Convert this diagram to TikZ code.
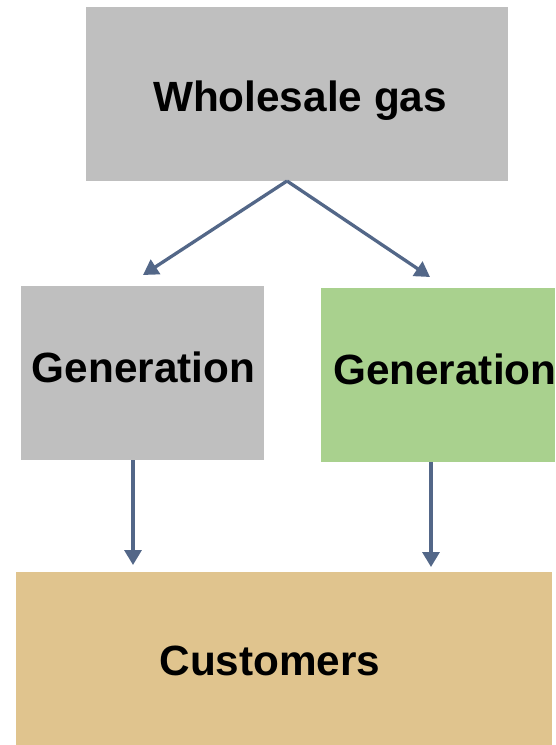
\documentclass[tikz,border=0pt]{standalone}
\usepackage{fontspec}
\setmainfont{Liberation Sans}
\usetikzlibrary{arrows.meta}
\definecolor{boxgray}{HTML}{BFBFBF}
\definecolor{boxgreen}{HTML}{A9D18E}
\definecolor{boxtan}{HTML}{E0C48E}
\definecolor{arrowblue}{HTML}{536788}
\begin{document}
\begin{tikzpicture}[x=1pt,y=-1pt,
  blk/.style={draw=none,inner sep=0pt,outer sep=0pt,anchor=north west},
  lbl/.style={font=\fontsize{42.3}{48}\selectfont\bfseries,inner sep=0pt},
  arr/.style={draw=arrowblue,line width=3.3pt,-{Triangle[width=17pt,length=15pt]}}]
\useasboundingbox (0,0) rectangle (555,745);
\node[blk,fill=boxgray,minimum width=422pt,minimum height=174pt] (w) at (86,7) {};
\node[lbl,anchor=base] (wt) at (300,111) {Wholesale gas};
\node[blk,fill=boxgray,minimum width=243pt,minimum height=174pt] (g1) at (21,286) {};
\node[lbl,anchor=base] (g1t) at (143.5,382) {Generation};
\node[blk,fill=boxgreen,minimum width=234pt,minimum height=174pt] (g2) at (321,288) {};
\node[lbl,anchor=base west] (g2t) at (333,384) {Generation};
\node[blk,fill=boxtan,minimum width=536pt,minimum height=173pt] (c) at (16,572) {};
\node[lbl,anchor=base] (ct) at (270,675) {Customers};
\coordinate (apex) at (287,181);
\coordinate (t1) at (143,275);
\coordinate (t2) at (430,277);
\coordinate (s1) at (133,460);
\coordinate (e1) at (133,565);
\coordinate (s2) at (431,462);
\coordinate (e2) at (431,567);
\draw[arr] (apex) -- (t1);
\draw[arr] (apex) -- (t2);
\draw[arr] (s1) -- (e1);
\draw[arr] (s2) -- (e2);
\end{tikzpicture}
\end{document}
